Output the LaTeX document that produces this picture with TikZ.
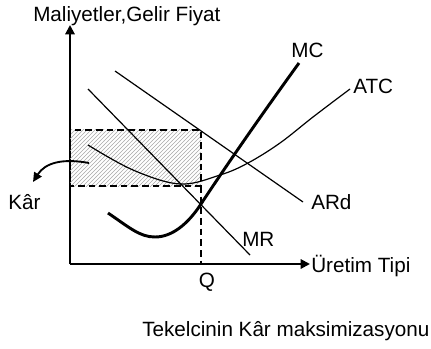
\documentclass[tikz,border=0pt]{standalone}
\usepackage{fontspec}
\setmainfont{Liberation Sans}
\usetikzlibrary{arrows.meta,patterns}
\definecolor{cizgi}{HTML}{000000}
\definecolor{tarama}{HTML}{A8A8A8}

\begin{document}
\begin{tikzpicture}[
  x=0.75pt, y=-0.75pt,
  font=\fontsize{15.5}{18}\selectfont,
  >={Triangle[length=7pt,width=7pt]},
  lbl/.style={inner sep=0pt, text=cizgi},
  axis/.style={->, line width=1.5pt, cizgi},
  curve/.style={line width=0.9pt, cizgi},
  mcline/.style={line width=2.2pt, cizgi},
  guide/.style={line width=1.1pt, cizgi, dash pattern=on 5pt off 3pt},
  pointer/.style={-{Triangle[length=7pt,width=6.5pt]}, line width=1.4pt, cizgi}]

%% Lienzo fijo en píxeles de la referencia (431 x 349), eje y hacia abajo.
\useasboundingbox (0,0) rectangle (431,349);

%% ---- ejes ----
\coordinate (o)    at (70,264);
\coordinate (ytop) at (70,25);
\coordinate (xend) at (310,264);
\draw[axis] (o) -- (ytop);
\draw[axis] (o) -- (xend);
\node[lbl, anchor=west] (ylab) at (33,16)  {Maliyetler,Gelir Fiyat};
\node[lbl, anchor=west] (xlab) at (311,266) {Üretim Tipi};

%% ---- área de kâr ----
\coordinate (ktl) at (70,130);
\coordinate (kbr) at (201,186);
\fill[pattern=north east lines, pattern color=tarama] (ktl) rectangle (kbr);
\draw[guide] (ktl) rectangle (kbr);
\draw[guide] (kbr) -- (kbr |- o);
\node[lbl] (q) at (207,282) {Q};

%% ---- rectas de demanda e ingreso marginal ----
\coordinate (ard0) at (115,71);
\coordinate (ard1) at (303,202);
\draw[curve] (ard0) -- (ard1);
\node[lbl, anchor=west] (ardlab) at (311,202) {ARd};

\coordinate (mr0) at (88,89);
\coordinate (mr1) at (250,255);
\draw[curve] (mr0) -- (mr1);
\node[lbl, anchor=west] (mrlab) at (242,239) {MR};

%% ---- costes ----
\coordinate (mc0) at (108,213);
\coordinate (mcq) at (201,204);
\coordinate (mc1) at (299,63);
\draw[mcline] (mc0) .. controls (130,228) and (140,237) .. (155,237)
  .. controls (172,237) and (188,224) .. (mcq)
  .. controls (230,160) and (265,110) .. (mc1);
\node[lbl] (mclab) at (307.5,50) {MC};

\draw[curve] plot[smooth, tension=0.6] coordinates
  {(88,145) (133,170) (180,184) (220,175) (248,163) (280,143) (313,117) (350,89)};
\node[lbl, anchor=west] (atclab) at (353,86) {ATC};

%% ---- etiqueta del área ----
\coordinate (k0) at (89,163);
\node[lbl, anchor=west] (kar) at (8,202) {Kâr};
\coordinate (k1) at (33,182);
\draw[pointer] (k0) .. controls (62,158) and (45,163) .. (k1);

%% ---- pie ----
\node[lbl, anchor=west] (caption) at (142,331) {Tekelcinin Kâr maksimizasyonu};

\end{tikzpicture}
\end{document}
